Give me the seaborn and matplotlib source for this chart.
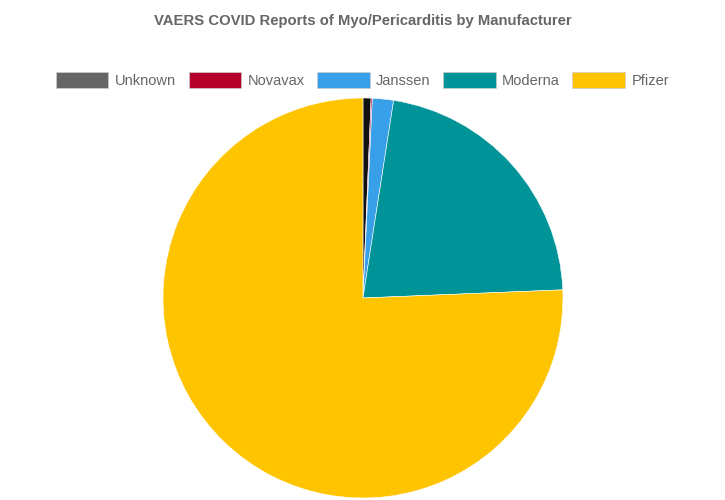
import matplotlib

matplotlib.use("Agg")

import matplotlib.pyplot as plt
import seaborn as sns
from matplotlib.patches import Patch

manufacturers = ["Unknown", "Novavax", "Janssen", "Moderna", "Pfizer"]
share_pct = [0.65, 0.1, 1.7, 21.9, 75.65]
legend_colors = ["#666666", "#b5002c", "#38a0e8", "#009499", "#ffc400"]
slice_colors = ["#111111", "#b5002c", "#38a0e8", "#009499", "#ffc400"]

sns.set_theme(style="white")
plt.rcParams["font.family"] = ["Liberation Sans", "DejaVu Sans"]

fig = plt.figure(figsize=(7.25, 5), dpi=100)
ax = fig.add_axes([0.2248, 0.004, 0.5517, 0.8])

ax.pie(
    share_pct,
    colors=slice_colors,
    startangle=90,
    counterclock=False,
    radius=1.0,
    wedgeprops={"edgecolor": "white", "linewidth": 0.4},
)
ax.set_xlim(-1, 1)
ax.set_ylim(-1, 1)
ax.set_aspect("auto")
ax.axis("off")

fig.text(
    0.5, 0.958, "VAERS COVID Reports of Myo/Pericarditis by Manufacturer",
    ha="center", va="center", fontsize=10.7, fontweight="bold", color="#666666",
)

handles = [Patch(facecolor=c, edgecolor="#cccccc", linewidth=0.5) for c in legend_colors]
fig.legend(
    handles, manufacturers,
    loc="center", bbox_to_anchor=(0.5, 0.84), ncol=5, frameon=False,
    fontsize=10.5, labelcolor="#666666",
    handlelength=3.6, handleheight=1.4, handletextpad=0.45, columnspacing=0.85,
)

fig.savefig("out.png", dpi=100)
plt.close(fig)
